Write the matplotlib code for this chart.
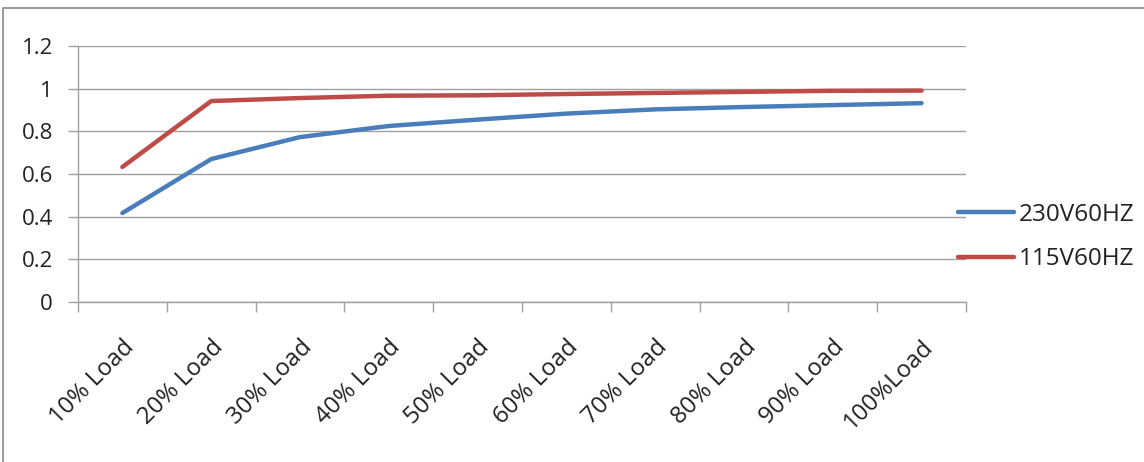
import matplotlib
matplotlib.use("Agg")
import matplotlib.pyplot as plt
from matplotlib.patches import Rectangle

categories = ["10% Load", "20% Load", "30% Load", "40% Load", "50% Load",
              "60% Load", "70% Load", "80% Load", "90% Load", "100%Load"]
v230 = [0.417, 0.67, 0.773, 0.825, 0.855, 0.883, 0.903, 0.914, 0.923, 0.932]
v115 = [0.633, 0.942, 0.956, 0.967, 0.969, 0.975, 0.980, 0.985, 0.990, 0.991]
yticks = [0, 0.2, 0.4, 0.6, 0.8, 1, 1.2]
ytick_labels = ["0", "0.2", "0.4", "0.6", "0.8", "1", "1.2"]

plt.rcParams['font.family'] = ['Open Sans', 'DejaVu Sans']

fig = plt.figure(figsize=(11.44, 4.62), dpi=100)
fig.patches.append(Rectangle((3/1144, -0.1), 1.2, 1 - 8/462 + 0.1, transform=fig.transFigure,
                             fill=False, edgecolor='#888888', linewidth=1.2))
ax = fig.add_axes([78/1144, 1 - 302/462, (966 - 78)/1144, (302 - 46)/462])

x = list(range(len(categories)))
l1, = ax.plot(x, v230, color='#4A7EBB', linewidth=3.2, solid_capstyle='round', label='230V60HZ')
l2, = ax.plot(x, v115, color='#BE4B48', linewidth=3.2, solid_capstyle='round', label='115V60HZ')

ax.set_xlim(-0.5, len(categories) - 0.5)
ax.set_ylim(0, 1.2)
ax.set_yticks(yticks)
ax.set_yticklabels(ytick_labels)
ax.yaxis.grid(True, color='#A0A0A0', linewidth=1.0)
ax.set_axisbelow(True)

ax.set_xticks([i - 0.5 for i in range(len(categories) + 1)])
ax.set_xticklabels([])
ax.set_xticks(x, minor=True)
ax.set_xticklabels(categories, minor=True, rotation=45, ha='right', va='top',
                   rotation_mode='anchor', fontsize=17.3, color='#222222')
ax.tick_params(axis='x', which='minor', length=0, pad=24)
ax.tick_params(axis='x', which='major', length=7, color='#A0A0A0', width=1)
ax.tick_params(axis='y', length=7, color='#A0A0A0', width=1, labelsize=16, labelcolor='#222222', pad=11)

for s in ['top', 'right']:
    ax.spines[s].set_visible(False)
for s in ['left', 'bottom']:
    ax.spines[s].set_color('#A0A0A0')
    ax.spines[s].set_linewidth(1.0)

fig.legend(handles=[l1, l2], loc='center left', bbox_to_anchor=(958/1144, 1 - 237/462),
           frameon=False, fontsize=17.5, handlelength=2.3, handletextpad=0.2,
           labelspacing=0.85, borderpad=0, borderaxespad=0, labelcolor='#222222')

fig.savefig('out.png', dpi=100, facecolor='white')
